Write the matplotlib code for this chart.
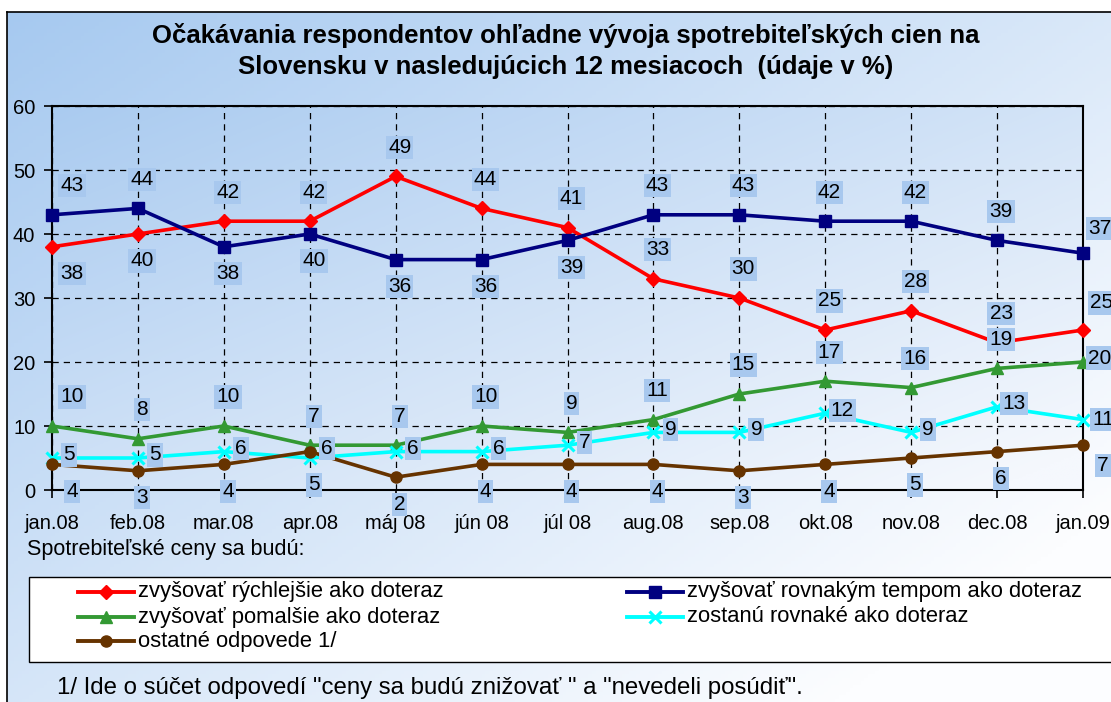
import numpy as np
import matplotlib
matplotlib.use("Agg")
import matplotlib.pyplot as plt
from matplotlib.patches import Rectangle
from matplotlib.lines import Line2D

plt.rcParams['font.family'] = ['Liberation Sans', 'DejaVu Sans']

# ---------------- data ----------------
months = ["jan.08", "feb.08", "mar.08", "apr.08", "máj 08", "jún 08", "júl 08",
          "aug.08", "sep.08", "okt.08", "nov.08", "dec.08", "jan.09"]
faster = [38, 40, 42, 42, 49, 44, 41, 33, 30, 25, 28, 23, 25]
same_pace = [43, 44, 38, 40, 36, 36, 39, 43, 43, 42, 42, 39, 37]
slower = [10, 8, 10, 7, 7, 10, 9, 11, 15, 17, 16, 19, 20]
unchanged = [5, 5, 6, 5, 6, 6, 7, 9, 9, 12, 9, 13, 11]
other = [4, 3, 4, 6, 2, 4, 4, 4, 3, 4, 5, 6, 7]

names = ["zvyšovať rýchlejšie ako doteraz",
         "zvyšovať rovnakým tempom ako doteraz",
         "zvyšovať pomalšie ako doteraz",
         "zostanú rovnaké ako doteraz",
         "ostatné odpovede 1/"]
title = ("Očakávania respondentov ohľadne vývoja spotrebiteľských cien na\n"
         "Slovensku v nasledujúcich 12 mesiacoch  (údaje v %)")
subtitle = "Spotrebiteľské ceny sa budú:"
footnote = '1/ Ide o súčet odpovedí "ceny sa budú znižovať " a "nevedeli posúdiť".'
yticks = [0, 10, 20, 30, 40, 50, 60]

# ---------------- styles ----------------
W, H = 1111, 702
DPI = 100
colors = ["#ff0000", "#000080", "#339933", "#00ffff", "#663300"]
markers = ["D", "s", "^", "x", "o"]
msizes = [7, 8, 9, 9, 8]
series = [faster, same_pace, slower, unchanged, other]

# label placement codes: a=above, b=below, c=right of point, tuple = explicit pixel offset
pos_faster = ['b', 'b', 'a', 'a', 'a', 'a', 'a', 'a', 'a', 'a', 'a', 'a', (19, 27)]
pos_same = ['a', 'a', 'b', 'b', 'b', 'b', 'b', 'a', 'a', 'a', 'a', 'a', (17, 25)]
pos_slower = ['a'] * 12 + [(17, 4)]
pos_unch = ['c', 'c', 'c', 'b', 'c', 'c', 'c', 'c', 'c', 'c', 'c', 'c', (20, 0)]
pos_other = ['b', 'b', 'b', 'c', 'b', 'b', 'b', 'b', 'b', 'b', 'b', 'b', (20, -20)]
positions = [pos_faster, pos_same, pos_slower, pos_unch, pos_other]
code_off = {'a': (4, 29), 'b': (4, -27), 'c': (17, 3)}
label_box = "#a8c8ee"


def gradient(nx, ny, c0, c1, wx=0.55, wy=0.45):
    x = np.linspace(0, 1, nx)[None, :]
    y = np.linspace(0, 1, ny)[:, None]
    t = np.clip(x * wx + y * wy, 0, 1)[..., None]
    c0 = np.array(c0) / 255.0
    c1 = np.array(c1) / 255.0
    return c0 + (c1 - c0) * t


fig = plt.figure(figsize=(W / DPI, H / DPI), dpi=DPI)
fig.patch.set_facecolor("white")

# figure background gradient with border
bx0, by_top = 7, 12
bg = fig.add_axes([bx0 / W, 0, 1 - bx0 / W, 1 - by_top / H], zorder=-10)
bg.imshow(gradient(300, 200, (166, 201, 240), (252, 253, 255), 0.6, 0.55),
          extent=[0, 1, 0, 1], aspect='auto', origin='upper')
bg.set_xlim(0, 1)
bg.set_ylim(0, 1)
bg.set_axis_off()
fig.add_artist(Line2D([bx0 / W, bx0 / W], [0, 1 - by_top / H], color="black", lw=1.2,
                      transform=fig.transFigure))
fig.add_artist(Line2D([bx0 / W, 1], [1 - by_top / H, 1 - by_top / H], color="black", lw=1.2,
                      transform=fig.transFigure))

# plot area
L, R, T, B = 52, 1083, 106, 490
ax = fig.add_axes([L / W, 1 - B / H, (R - L) / W, (B - T) / H])
ax.set_facecolor("none")
ax.imshow(gradient(300, 200, (170, 203, 240), (245, 248, 253), 0.55, 0.5),
          extent=[0, 1, 0, 1], transform=ax.transAxes, aspect='auto',
          origin='upper', zorder=0)

x = np.arange(len(months))
ax.set_xlim(0, len(months) - 1)
ax.set_ylim(0, 60)
ax.set_yticks(yticks)
ax.set_yticklabels([str(v) for v in yticks], fontsize=14.5)
ax.set_xticks(x)
ax.set_xticklabels(months, fontsize=14.5)
ax.tick_params(axis='y', direction='out', length=6, width=1.2, pad=6)
ax.tick_params(axis='x', direction='out', length=6, width=1.2, pad=11)
ax.grid(True, color="black", linestyle=(0, (5, 4)), linewidth=0.9, zorder=1)
ax.set_axisbelow(False)
for sp in ax.spines.values():
    sp.set_color("black")
    sp.set_linewidth(1.5)
    sp.set_zorder(2)

for i, (vals, c, m, ms) in enumerate(zip(series, colors, markers, msizes)):
    mew = 2.2 if m == "x" else 1
    ax.plot(x, vals, color=c, lw=2.6, marker=m, markersize=ms, markeredgewidth=mew,
            markeredgecolor=c, markerfacecolor=c, zorder=3 + i, clip_on=False)

for vals, pos in zip(series, positions):
    for j, (v, p) in enumerate(zip(vals, pos)):
        if isinstance(p, tuple):
            dx, dy = p
        else:
            dx, dy = code_off[p]
            if j == 0 and p in ('a', 'b'):
                dx += 16
        ax.annotate(str(v), (x[j], v), xytext=(dx, dy), textcoords='offset pixels',
                    ha='center', va='center', fontsize=15, color="black", zorder=20,
                    annotation_clip=False,
                    bbox=dict(boxstyle="square,pad=0.1", fc=label_box, ec="none"))

# title
fig.text(566 / W, 1 - 51 / H, title, ha='center', va='center',
         fontsize=18.5, fontweight='bold', linespacing=1.4)

# subtitle
fig.text(27 / W, 1 - 549 / H, subtitle, ha='left', va='center', fontsize=15.5)

# legend box
lg = fig.add_axes([0, 0, 1, 1], zorder=5)
lg.set_xlim(0, W)
lg.set_ylim(H, 0)
lg.set_axis_off()
lg.patch.set_visible(False)
lg.add_patch(Rectangle((29, 577), W + 10, 85, fc="white", ec="black", lw=1.0))
entries = [(78, 592), (627, 592), (78, 617), (627, 617), (78, 641)]
for (ex, ey), name, c, m, ms in zip(entries, names, colors, markers, msizes):
    mew = 2.2 if m == "x" else 1
    lg.plot([ex, ex + 56], [ey, ey], color=c, lw=2.8)
    lg.plot([ex + 28], [ey], color=c, marker=m, markersize=ms, markeredgewidth=mew,
            markeredgecolor=c, markerfacecolor=c)
    lg.text(ex + 60, ey, name, ha='left', va='center', fontsize=15.8)

# footnote
fig.text(57 / W, 1 - 688 / H, footnote, ha='left', va='center', fontsize=17.3)

fig.savefig("out.png", dpi=DPI)
